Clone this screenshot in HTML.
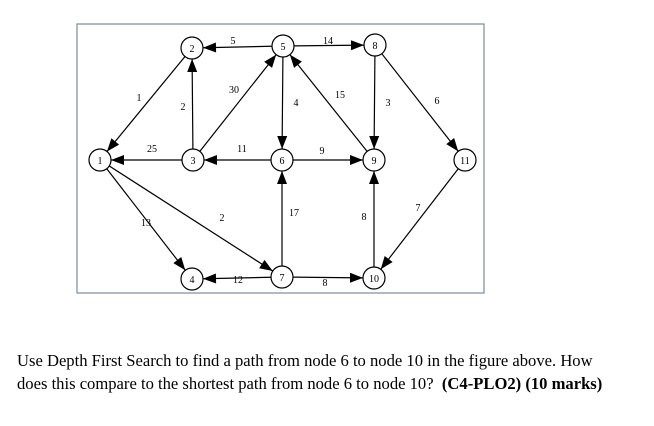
<!DOCTYPE html>
<html><head><meta charset="utf-8"><style>
body{margin:0;background:#fff;width:654px;height:426px;overflow:hidden;position:relative;font-family:"Liberation Serif",serif}
.t{position:absolute;left:17px;font-size:16.6px;color:#000;white-space:nowrap}
</style></head><body>
<svg width="654" height="426" style="position:absolute;left:0;top:0" font-family="Liberation Serif, serif">
<defs><marker id="a" markerUnits="userSpaceOnUse" markerWidth="13" markerHeight="10" refX="24" refY="5" orient="auto" overflow="visible"><path d="M0,0 L13,5 L0,10 z" fill="#000"/></marker></defs>
<rect x="77" y="24" width="407" height="269" fill="none" stroke="#7d8a99" stroke-width="1.2"/>
<g stroke="#000" stroke-width="1.2" marker-end="url(#a)">
<line x1="283" y1="46" x2="192" y2="48"/>
<line x1="283" y1="46" x2="375" y2="45"/>
<line x1="192" y1="48" x2="100" y2="160"/>
<line x1="193" y1="160" x2="192" y2="48"/>
<line x1="193" y1="160" x2="283" y2="46"/>
<line x1="283" y1="46" x2="282" y2="160"/>
<line x1="374" y1="160" x2="283" y2="46"/>
<line x1="375" y1="45" x2="374" y2="160"/>
<line x1="375" y1="45" x2="465" y2="160"/>
<line x1="193" y1="160" x2="100" y2="160"/>
<line x1="282" y1="160" x2="193" y2="160"/>
<line x1="282" y1="160" x2="374" y2="160"/>
<line x1="100" y1="160" x2="192" y2="279"/>
<line x1="100" y1="160" x2="282" y2="277"/>
<line x1="282" y1="277" x2="282" y2="160"/>
<line x1="374" y1="278" x2="374" y2="160"/>
<line x1="465" y1="160" x2="374" y2="278"/>
<line x1="282" y1="277" x2="192" y2="279"/>
<line x1="282" y1="277" x2="374" y2="278"/>
</g>
<g fill="#fff" stroke="#000" stroke-width="1.2">
<circle cx="100" cy="160" r="11"/><circle cx="192" cy="48" r="11"/><circle cx="193" cy="160" r="11"/>
<circle cx="192" cy="279" r="11"/><circle cx="283" cy="46" r="11"/><circle cx="282" cy="160" r="11"/>
<circle cx="282" cy="277" r="11"/><circle cx="375" cy="45" r="11"/><circle cx="374" cy="160" r="11"/>
<circle cx="374" cy="278" r="11"/><circle cx="465" cy="160" r="11"/>
</g>
<g font-size="10" text-anchor="middle" fill="#000">
<text x="100" y="164">1</text><text x="192" y="52">2</text><text x="193" y="164">3</text>
<text x="192" y="283">4</text><text x="283" y="50">5</text><text x="282" y="164">6</text>
<text x="282" y="281">7</text><text x="375" y="49">8</text><text x="374" y="164">9</text>
<text x="374" y="282">10</text><text x="465" y="164">11</text>
</g>
<g font-size="10" text-anchor="middle" fill="#000">
<text x="233" y="44">5</text><text x="328" y="44">14</text><text x="139" y="101">1</text>
<text x="183" y="110">2</text><text x="234" y="93">30</text><text x="296" y="106">4</text>
<text x="340" y="98">15</text><text x="388" y="106">3</text><text x="437" y="104">6</text>
<text x="152" y="152">25</text><text x="242" y="152">11</text><text x="322" y="154">9</text>
<text x="146" y="226">13</text><text x="222" y="221">2</text><text x="294" y="216">17</text>
<text x="364" y="220">8</text><text x="418" y="211">7</text><text x="238" y="283">12</text>
<text x="325" y="286">8</text>
</g>
</svg>
<div class="t" style="top:351px">Use Depth First Search to find a path from node 6 to node 10 in the figure above. How</div>
<div class="t" style="top:374px">does this compare to the shortest path from node 6 to node 10?&nbsp; <b>(C4-PLO2) (10 marks)</b></div>
</body></html>
